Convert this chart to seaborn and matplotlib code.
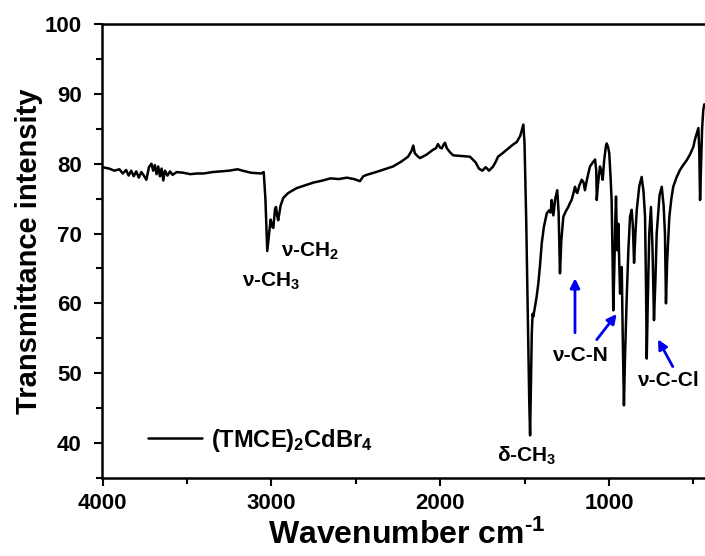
import matplotlib
matplotlib.use("Agg")
import matplotlib.pyplot as plt
from matplotlib.ticker import MultipleLocator
import seaborn as sns
import pandas as pd

wavenumber = [4000, 3960, 3930, 3900, 3880, 3860, 3845, 3830, 3815, 3800, 3785, 3770, 3755, 3740,
              3725, 3710, 3700, 3690, 3680, 3670, 3660, 3650, 3640, 3630, 3615, 3600, 3585, 3560,
              3520, 3480, 3440, 3400, 3350, 3300, 3250, 3200, 3170, 3120, 3060, 3045, 3035, 3028,
              3024, 3015, 3004, 2995, 2988, 2978, 2972, 2965, 2959, 2945, 2929, 2900, 2850, 2800,
              2750, 2694, 2650, 2600, 2553, 2510, 2475, 2455, 2435, 2380, 2330, 2279, 2230, 2190,
              2170, 2159, 2150, 2130, 2119, 2080, 2042, 2025, 2013, 2000, 1990, 1980, 1971, 1960,
              1940, 1923, 1870, 1823, 1790, 1770, 1750, 1730, 1710, 1686, 1670, 1657, 1630, 1605,
              1570, 1546, 1525, 1507, 1500, 1490, 1480, 1472, 1467, 1462, 1457, 1452, 1448, 1438,
              1428, 1418, 1408, 1398, 1385, 1368, 1355, 1345, 1339, 1333, 1329, 1318, 1306, 1298,
              1290, 1282, 1270, 1255, 1241, 1230, 1221, 1210, 1201, 1194, 1187, 1175, 1161, 1150,
              1142, 1132, 1122, 1112, 1095, 1082, 1075, 1072, 1065, 1053, 1045, 1037, 1028, 1018,
              1013, 1005, 998, 990, 984, 978, 974, 968, 962, 958, 954, 950, 947, 944, 939, 934,
              929, 924, 918, 911, 905, 895, 885, 875, 865, 858, 851, 843, 835, 820, 806, 795,
              786, 780, 776, 770, 761, 751, 742, 733, 725, 717, 700, 687, 676, 668, 662, 655,
              642, 630, 619, 600, 579, 560, 539, 520, 500, 490, 480, 470, 465, 460, 455, 448,
              441, 435]
transmittance = [79.5, 79.3, 79.0, 79.2, 78.6, 79.1, 78.3, 79.0, 78.2, 78.9, 78.0, 78.8, 78.3, 77.7,
                 79.5, 80.0, 79.0, 79.8, 78.5, 79.6, 78.2, 79.3, 77.6, 79.0, 78.3, 78.9, 78.4, 78.8,
                 78.7, 78.5, 78.6, 78.6, 78.8, 78.9, 79.0, 79.2, 79.0, 78.7, 78.6, 78.8, 75.0, 70.0,
                 67.5, 69.5, 72.0, 71.0, 70.8, 73.5, 73.8, 72.5, 71.9, 74.0, 75.1, 75.8, 76.5, 76.9,
                 77.3, 77.6, 77.9, 77.8, 78.0, 77.8, 77.5, 78.2, 78.4, 78.8, 79.2, 79.6, 80.3, 81.0,
                 81.8, 82.6, 81.5, 81.0, 80.8, 81.3, 82.0, 82.2, 82.8, 82.3, 82.2, 82.7, 83.0, 82.2,
                 81.6, 81.2, 81.1, 81.0, 80.2, 79.3, 79.0, 79.5, 79.0, 79.6, 80.3, 81.0, 81.5, 82.0,
                 82.7, 83.1, 84.0, 85.6, 83.0, 72.0, 58.0, 46.0, 41.1, 48.0, 55.7, 58.5, 58.1, 59.5,
                 61.0, 62.9, 65.5, 68.6, 71.0, 72.9, 73.3, 73.0, 74.8, 73.5, 72.6, 75.0, 76.2, 73.0,
                 64.3, 69.0, 72.4, 73.2, 73.8, 74.4, 74.8, 75.8, 76.7, 76.0, 75.8, 76.9, 77.7, 77.3,
                 76.2, 77.5, 78.6, 79.6, 80.2, 80.6, 79.0, 74.8, 77.0, 79.6, 79.0, 77.7, 80.5, 82.5,
                 82.9, 82.4, 81.5, 78.0, 74.8, 66.0, 59.0, 65.0, 72.0, 75.3, 71.0, 67.6, 70.0, 71.4,
                 66.0, 61.4, 64.0, 65.2, 55.0, 45.4, 52.0, 60.5, 67.5, 72.4, 73.4, 71.0, 65.8, 70.0,
                 73.4, 76.8, 78.1, 76.0, 72.4, 62.0, 52.1, 60.0, 70.0, 73.8, 68.0, 57.6, 63.0, 70.0,
                 75.5, 76.7, 74.0, 70.0, 60.0, 66.0, 72.4, 75.0, 76.7, 78.0, 79.1, 79.8, 80.5, 81.3,
                 82.4, 83.5, 84.3, 85.1, 82.0, 74.8, 79.0, 85.0, 87.7, 88.5]

series_label = "(TMCE)$_2$CdBr$_4$"
x_ticks = [4000, 3000, 2000, 1000]
y_ticks = [40, 50, 60, 70, 80, 90, 100]

sns.set_style("ticks")
plt.rcParams['font.family'] = ['Liberation Sans', 'DejaVu Sans']
plt.rcParams['font.weight'] = 'bold'
plt.rcParams['mathtext.fontset'] = 'custom'
plt.rcParams['mathtext.rm'] = 'Liberation Sans:bold'
plt.rcParams['mathtext.it'] = 'Liberation Sans:bold'
plt.rcParams['mathtext.bf'] = 'Liberation Sans:bold'
plt.rcParams['mathtext.default'] = 'rm'
for k in ['text.color', 'axes.labelcolor', 'xtick.color', 'ytick.color', 'axes.edgecolor']:
    plt.rcParams[k] = 'black'

df = pd.DataFrame({"wn": wavenumber, "T": transmittance})

fig = plt.figure(figsize=(7.05, 5.56), dpi=100)
ax = fig.add_axes([102.5 / 705, 78 / 556, 607.7 / 705, 454 / 556])
sns.lineplot(data=df, x="wn", y="T", sort=False, color="black", linewidth=1.8,
             label=series_label, ax=ax)

ax.set_xlim(4000, 400)
ax.set_ylim(35, 100)
ax.set_xticks(x_ticks)
ax.set_yticks(y_ticks)
ax.xaxis.set_minor_locator(MultipleLocator(500))
ax.yaxis.set_minor_locator(MultipleLocator(5))
ax.tick_params(which='major', direction='out', length=6, width=1.5, labelsize=16)
ax.tick_params(which='minor', direction='out', length=4, width=1.5)
ax.tick_params(axis='x', which='major', pad=5)
ax.tick_params(axis='y', which='major', pad=9)
for s in ax.spines.values():
    s.set_linewidth(1.8)

ax.set_xlabel("Wavenumber cm$^{\\text{-1}}$", fontsize=23, fontweight='bold', labelpad=4)
ax.set_ylabel("Transmittance intensity", fontsize=21, fontweight='bold', labelpad=1)

leg = ax.legend(loc='center left', bbox_to_anchor=((148 - 102.5) / 607.7, (478 - 440) / 454),
                frameon=False, fontsize=17, handlelength=2.3, handletextpad=0.35,
                borderpad=0, borderaxespad=0)

ann_kw = dict(fontsize=15, fontweight='bold', ha='center', va='center')
ax.text(3002, 63.2, "ν-CH$_3$", **ann_kw)
ax.text(2770, 67.5, "ν-CH$_2$", **ann_kw)
ax.text(1485, 38.1, "δ-CH$_3$", **ann_kw)
ax.text(1171, 52.6, "ν-C-N", **ann_kw)
ax.text(650, 49.0, "ν-C-Cl", **ann_kw)

arrow_kw = dict(arrowstyle='-|>', color='#0000ee', lw=2, mutation_scale=14)
ax.annotate("", xy=(1201, 64.0), xytext=(1201, 55.4), arrowprops=arrow_kw)
ax.annotate("", xy=(944, 58.8), xytext=(1082, 54.5), arrowprops=arrow_kw)
ax.annotate("", xy=(717, 55.2), xytext=(614, 50.6), arrowprops=arrow_kw)

fig.savefig("out.png", dpi=100)
